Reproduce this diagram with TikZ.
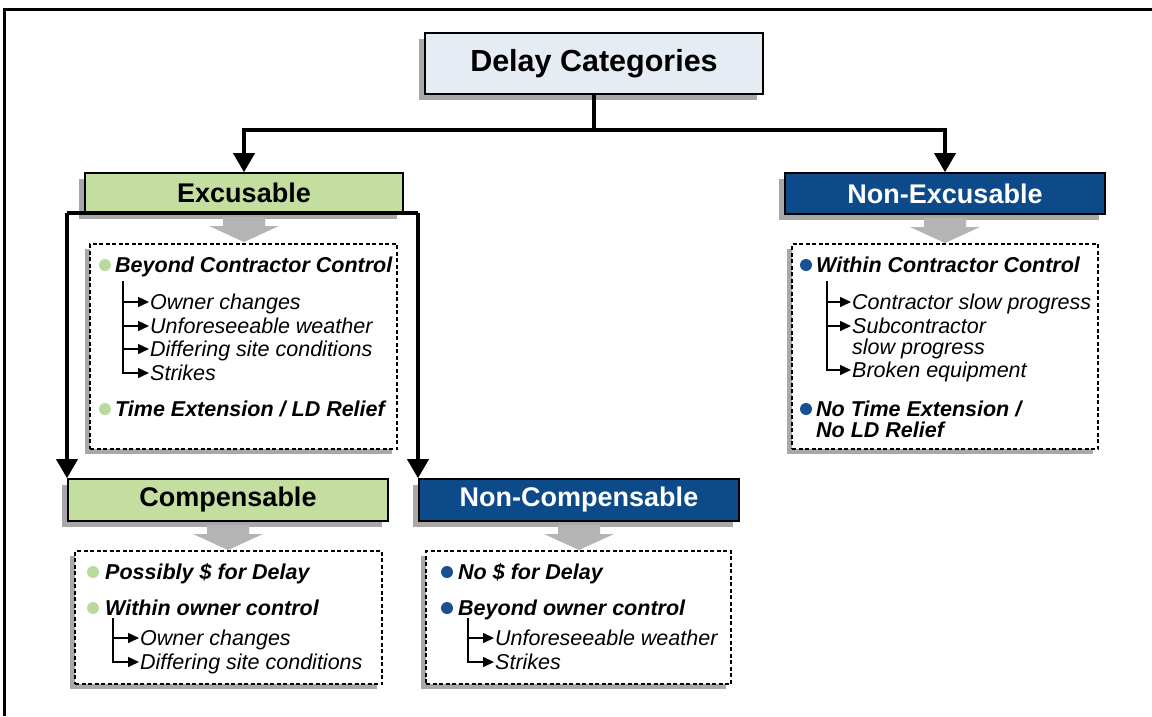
\documentclass[tikz,border=0pt]{standalone}
\usepackage{fontspec}
\setmainfont{Liberation Sans}
\usetikzlibrary{arrows.meta,shadows}
\definecolor{greenfill}{HTML}{C4DEA0}
\definecolor{bluefill}{HTML}{0C4A8A}
\definecolor{topfill}{HTML}{E6ECF4}
\definecolor{shadowgray}{HTML}{A8A8A8}
\definecolor{arrowgray}{HTML}{B4B4B4}
\definecolor{gdotc}{HTML}{B8DA9C}
\definecolor{bdotc}{HTML}{1A4F91}
\begin{document}
\begin{tikzpicture}[x=1pt,y=-1pt,
  hdr/.style={draw=black, line width=1.6pt, inner sep=0pt,
    drop shadow={shadow xshift=-6pt, shadow yshift=-6pt, fill=shadowgray, opacity=1}},
  greenbox/.style={hdr, fill=greenfill, text=black, font=\fontsize{27}{32}\selectfont\bfseries},
  bluebox/.style={hdr, fill=bluefill, text=white, font=\fontsize{27}{32}\selectfont\bfseries},
  topbox/.style={hdr, fill=topfill, text=black, font=\fontsize{30.5}{36}\selectfont\bfseries},
  dbox/.style={draw=black, line width=1.3pt, dash pattern=on 4pt off 2.5pt, fill=white, inner sep=0pt,
    drop shadow={shadow xshift=-5pt, shadow yshift=-5pt, fill=shadowgray, opacity=1}},
  bitem/.style={anchor=west, inner sep=0pt, text height=15.4pt, text depth=0pt,
    font=\fontsize{21.5}{24}\selectfont\bfseries\itshape},
  sitem/.style={anchor=west, inner sep=0pt, text height=15.4pt, text depth=0pt,
    font=\fontsize{21.5}{24}\selectfont\itshape},
  gdot/.style={circle, fill=gdotc, inner sep=0pt, minimum size=12pt},
  bdot/.style={circle, fill=bdotc, inner sep=0pt, minimum size=12pt},
  conn/.style={line width=3.6pt, black},
  carrow/.style={conn, -{Triangle[width=21pt,length=19pt]}},
  subline/.style={line width=1.5pt, black},
  subarrow/.style={subline, -{Triangle[width=10pt,length=11pt]}, shorten >=1pt},
  garrow/.pic={\fill[arrowgray] (-21,0) -- (21,0) -- (21,9) -- (35,9) -- (0,25) -- (-35,9) -- (-21,9) -- cycle;}
]
\useasboundingbox (0,0) rectangle (1152,716);
\fill[white] (0,0) rectangle (1152,716);
% frame
\draw[line width=3pt, black] (4.3,716) -- (4.3,9.5) -- (1152,9.5);

% header boxes
\node[topbox, minimum width=338pt, minimum height=61pt] (top) at (594,63.5) {Delay Categories};
\node[greenbox, minimum width=318pt, minimum height=40pt] (exc) at (244,193) {Excusable};
\node[bluebox, minimum width=320pt, minimum height=41pt] (nexc) at (945,193.5) {Non-Excusable};
\node[greenbox, minimum width=320pt, minimum height=42pt] (comp) at (228,500) {Compensable};
\node[bluebox, minimum width=320pt, minimum height=42pt] (ncomp) at (579,500) {Non-Compensable};

% gray block arrows
\pic at (244,217) {garrow};
\pic at (945,218) {garrow};
\pic at (228,525) {garrow};
\pic at (579,525) {garrow};

% dashed boxes
\node[dbox, minimum width=307pt, minimum height=205pt] (d1) at (243.5,346.5) {};
\node[dbox, minimum width=306pt, minimum height=205pt] (d2) at (945,346.5) {};
\node[dbox, minimum width=307pt, minimum height=133pt] (d3) at (228.5,617.5) {};
\node[dbox, minimum width=305pt, minimum height=133pt] (d4) at (578.5,617.5) {};

% connectors from top
\draw[conn] (top.south) -- ++(0,35) coordinate (j);
\draw[carrow] (j) -| (exc.north);
\draw[carrow] (j) -| (nexc.north);
% connectors from Excusable
\coordinate (eL) at (67,213);
\coordinate (eR) at (418,213);
\draw[conn] (eL) -- (eR);
\draw[carrow] (eL) -- (eL |- comp.north);
\draw[carrow] (eR) -- (eR |- ncomp.north);

% box 1 content
\node[gdot] (g11) at (105,265) {};
\node[bitem] (b11) at (115,265) {Beyond Contractor Control};
\node[sitem] (s11) at (150,302) {Owner changes};
\node[sitem] (s12) at (150,326) {Unforeseeable weather};
\node[sitem] (s13) at (150,349) {Differing site conditions};
\node[sitem] (s14) at (150,373) {Strikes};
\node[gdot] (g12) at (105,409) {};
\node[bitem] (b12) at (115,409) {Time Extension / LD Relief};
\coordinate (v1) at (123,281);
\draw[subarrow] (v1) |- (s14.west);
\draw[subarrow] (v1 |- s11.west) -- (s11.west);
\draw[subarrow] (v1 |- s12.west) -- (s12.west);
\draw[subarrow] (v1 |- s13.west) -- (s13.west);

% box 2 content
\node[bdot] (g21) at (806,265) {};
\node[bitem] (b21) at (816,265) {Within Contractor Control};
\node[sitem] (s21) at (852,302) {Contractor slow progress};
\node[sitem] (s22) at (852,326) {Subcontractor};
\node[sitem] (s22b) at (852,347) {slow progress};
\node[sitem] (s23) at (852,370) {Broken equipment};
\node[bdot] (g22) at (806,409) {};
\node[bitem] (b22) at (816,409) {No Time Extension /};
\node[bitem] (b22b) at (816,430) {No LD Relief};
\coordinate (v2) at (827,281);
\draw[subarrow] (v2) |- (s23.west);
\draw[subarrow] (v2 |- s21.west) -- (s21.west);
\draw[subarrow] (v2 |- s22.west) -- (s22.west);

% box 3 content
\node[gdot] (g31) at (93,572) {};
\node[bitem] (b31) at (105,572) {Possibly \$ for Delay};
\node[gdot] (g32) at (93,608) {};
\node[bitem] (b32) at (105,608) {Within owner control};
\node[sitem] (s31) at (140,638) {Owner changes};
\node[sitem] (s32) at (140,662) {Differing site conditions};
\coordinate (v3) at (113,618);
\draw[subarrow] (v3) |- (s32.west);
\draw[subarrow] (v3 |- s31.west) -- (s31.west);

% box 4 content
\node[bdot] (g41) at (447,572) {};
\node[bitem] (b41) at (458,572) {No \$ for Delay};
\node[bdot] (g42) at (447,608) {};
\node[bitem] (b42) at (458,608) {Beyond owner control};
\node[sitem] (s41) at (495,638) {Unforeseeable weather};
\node[sitem] (s42) at (495,662) {Strikes};
\coordinate (v4) at (468,618);
\draw[subarrow] (v4) |- (s42.west);
\draw[subarrow] (v4 |- s41.west) -- (s41.west);
\end{tikzpicture}
\end{document}
